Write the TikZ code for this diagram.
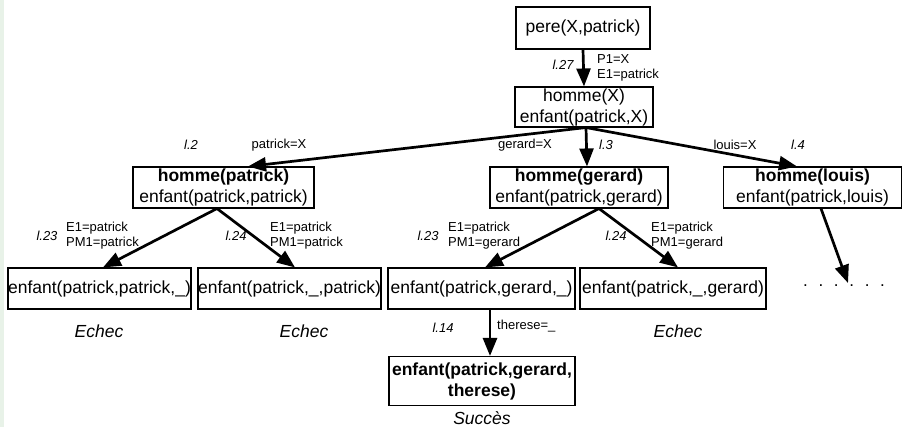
\documentclass[tikz,border=0pt]{standalone}
\usepackage{fontspec}
\setmainfont{Liberation Sans}
\usetikzlibrary{arrows.meta}
\definecolor{strip}{RGB}{232,242,232}
\begin{document}
\begin{tikzpicture}[x=1pt,y=-1pt,
 box/.style={draw,line width=1.1pt,inner sep=0pt,align=center,font=\fontsize{17.5}{21}\selectfont},
 arr/.style={line width=2.7pt,-{Triangle[length=18pt,width=14pt]}},
 lab/.style={font=\fontsize{13}{15}\selectfont,inner sep=0pt,align=left},
 refl/.style={font=\fontsize{13}{15}\selectfont\itshape,inner sep=0pt},
 res/.style={font=\fontsize{17.5}{20}\selectfont\itshape,inner sep=0pt}]
\useasboundingbox (0,0) rectangle (902,427);
\fill[strip] (0,0) rectangle (4,427);
% nodes
\node[box,minimum width=134pt,minimum height=42pt] (pere) at (583,28) {pere(X,patrick)};
\node[box,minimum width=138pt,minimum height=40pt] (hX) at (584,107) {homme(X)\\enfant(patrick,X)};
\node[box,minimum width=181pt,minimum height=41pt] (hp) at (223.5,187.5) {\textbf{homme(patrick)}\\enfant(patrick,patrick)};
\node[box,minimum width=178pt,minimum height=41pt] (hg) at (579,187.5) {\textbf{homme(gerard)}\\enfant(patrick,gerard)};
\node[box,minimum width=178pt,minimum height=41pt] (hl) at (812.5,187.5) {\textbf{homme(louis)}\\enfant(patrick,louis)};
\node[box,minimum width=183pt,minimum height=41pt] (b1) at (99.5,288.5) {enfant(patrick,patrick,\_)};
\node[box,minimum width=183pt,minimum height=41pt] (b2) at (289.5,288.5) {enfant(patrick,\_,patrick)};
\node[box,minimum width=187pt,minimum height=41pt] (b3) at (481.5,288.5) {enfant(patrick,gerard,\_)};
\node[box,minimum width=186pt,minimum height=41pt] (b4) at (673,288.5) {enfant(patrick,\_,gerard)};
\node[box,minimum width=186pt,minimum height=49pt] (fin) at (482,381) {\textbf{enfant(patrick,gerard,}\\\textbf{therese)}};
\coordinate (dots) at (848,283);
\node[font=\fontsize{17}{20}\selectfont,inner sep=0pt,anchor=base] (dotsl) at (844,287) {.\hspace{10.7pt}.\hspace{10.7pt}.\hspace{10.7pt}.\hspace{10.7pt}.\hspace{10.7pt}.};
% connectors
\draw[arr] (pere.south) -- (hX.north);
\draw[arr] ([xshift=2pt]hX.south) -- ([xshift=24.5pt]hp.north);
\draw[arr] ([xshift=2pt]hX.south) -- ([xshift=8pt]hg.north);
\draw[arr] ([xshift=2pt]hX.south) -- ([xshift=-15.5pt]hl.north);
\draw[arr] ([xshift=-6.5pt]hp.south) -- ([xshift=3.5pt]b1.north);
\draw[arr] ([xshift=-6.5pt]hp.south) -- ([xshift=5.5pt]b2.north);
\draw[arr] ([xshift=20pt]hg.south) -- ([xshift=3.5pt]b3.north);
\draw[arr] ([xshift=20pt]hg.south) -- ([xshift=5pt]b4.north);
\draw[arr] ([xshift=8.5pt]hl.south) -- (dots);
\draw[arr] ([xshift=8.5pt]b3.south) -- ([xshift=8pt]fin.north);
% labels
\node[refl] (r27) at (563,65) {l.27};
\node[lab,anchor=west] (u27) at (597,67.5) {P1=X\\E1=patrick};
\node[refl] (r2) at (191,145) {l.2};
\node[lab] (u2) at (279,145) {patrick=X};
\node[lab] (u3) at (525,145) {gerard=X};
\node[refl] (r3) at (606,145) {l.3};
\node[lab] (u4) at (735,145) {louis=X};
\node[refl] (r4) at (798,145) {l.4};
\node[refl] (r23a) at (47,236) {l.23};
\node[lab,anchor=west] (u23a) at (66,235.5) {E1=patrick\\PM1=patrick};
\node[refl] (r24a) at (236,236) {l.24};
\node[lab,anchor=west] (u24a) at (270,235.5) {E1=patrick\\PM1=patrick};
\node[refl] (r23b) at (428,236) {l.23};
\node[lab,anchor=west] (u23b) at (448,235.5) {E1=patrick\\PM1=gerard};
\node[refl] (r24b) at (616,236) {l.24};
\node[lab,anchor=west] (u24b) at (651,235.5) {E1=patrick\\PM1=gerard};
\node[refl] (r14) at (443,328) {l.14};
\node[lab,anchor=west] (u14) at (497,326) {therese=\_};
\node[res] (e1) at (99,331) {Echec};
\node[res] (e2) at (304,331) {Echec};
\node[res] (e4) at (678,331) {Echec};
\node[res] (succ) at (482,418) {Succès};
\end{tikzpicture}
\end{document}
